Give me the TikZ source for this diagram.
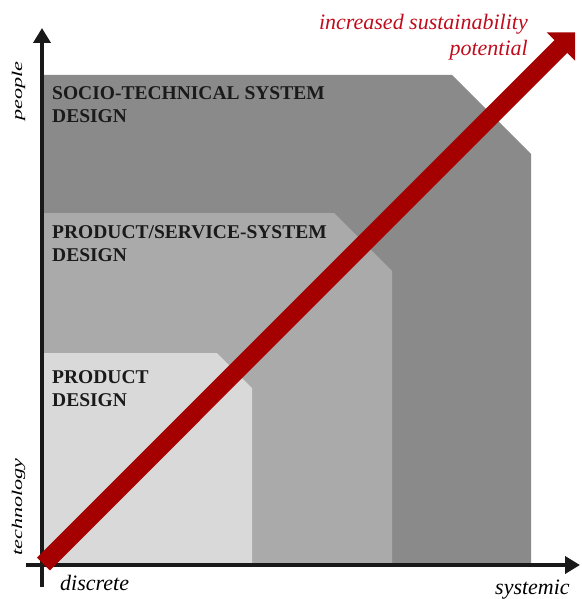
\documentclass[tikz,border=0pt]{standalone}
\usepackage{fontspec}
\setmainfont{Liberation Serif}
\usetikzlibrary{arrows.meta}
\definecolor{gdark}{RGB}{138,138,138}
\definecolor{gmid}{RGB}{170,170,170}
\definecolor{glight}{RGB}{217,217,217}
\definecolor{redarrow}{RGB}{165,0,0}
\definecolor{redtext}{RGB}{192,12,28}
\definecolor{labeltext}{RGB}{26,26,26}
\begin{document}
\begin{tikzpicture}[x=1pt,y=-1pt,
  region/.style={fill=#1,draw=none},
  boxlabel/.style={anchor=base west,inner sep=0pt,align=left,text=labeltext,
    font=\bfseries\fontsize{19.5}{22.5}\selectfont},
  axislabel/.style={inner sep=0pt,font=\itshape\fontsize{22}{26}\selectfont},
  sidelabel/.style={inner sep=0pt,anchor=base,rotate=90,font=\itshape\fontsize{14.8}{18}\selectfont},
  redlabel/.style={inner sep=0pt,anchor=base east,text=redtext,font=\itshape\fontsize{22}{26}\selectfont},
  axis/.style={line width=4.5pt,draw=black!90,-{Triangle[length=15pt,width=17pt]}}]
\useasboundingbox (0,0) rectangle (581,599);
% regions
\fill[region=gdark] (42,565) -- (42,75) -- (452,75) -- (531,154) -- (531,565) -- cycle;
\fill[region=gmid] (42,565) -- (42,213) -- (334,213) -- (392,271) -- (392,565) -- cycle;
\fill[region=glight] (42,565) -- (42,353) -- (217,353) -- (252,388) -- (252,565) -- cycle;
% axes
\coordinate (ybot) at (42,587);
\coordinate (ytop) at (42,28);
\coordinate (xleft) at (26,565);
\coordinate (xright) at (580,565);
\draw[axis] (ybot) -- (ytop);
\draw[axis] (xleft) -- (xright);
% red arrow
\coordinate (s1) at (37.1,557.6);
\coordinate (s2) at (49.9,570.4);
\coordinate (b1) at (567.2,52.9);
\coordinate (b2) at (554.5,40.2);
\coordinate (w1) at (575.0,60.7);
\coordinate (w2) at (546.7,32.4);
\coordinate (tip) at (575,32.5);
\fill[redarrow] (s1) -- (s2) -- (b1) -- (w1) -- (tip) -- (w2) -- (b2) -- cycle;
% labels (anchor = baseline of the last line)
\node[boxlabel] (stsd) at (52,122.5) {SOCIO-TECHNICAL SYSTEM\\DESIGN};
\node[boxlabel] (pssd) at (52,261) {PRODUCT/SERVICE-SYSTEM\\DESIGN};
\node[boxlabel] (pd) at (52,406) {PRODUCT\\DESIGN};
\node[redlabel] (inc1) at (528,30) {increased sustainability};
\node[redlabel] (inc2) at (528,56) {potential};
\node[axislabel,anchor=base west] (disc) at (60,590) {discrete};
\node[axislabel,anchor=base west] (syst) at (495,594) {systemic};
\node[sidelabel] (ppl) at (22,91) {\scalebox{1.5}[1]{people}};
\node[sidelabel] (tech) at (22,507) {\scalebox{1.5}[1]{technology}};
\end{tikzpicture}
\end{document}
